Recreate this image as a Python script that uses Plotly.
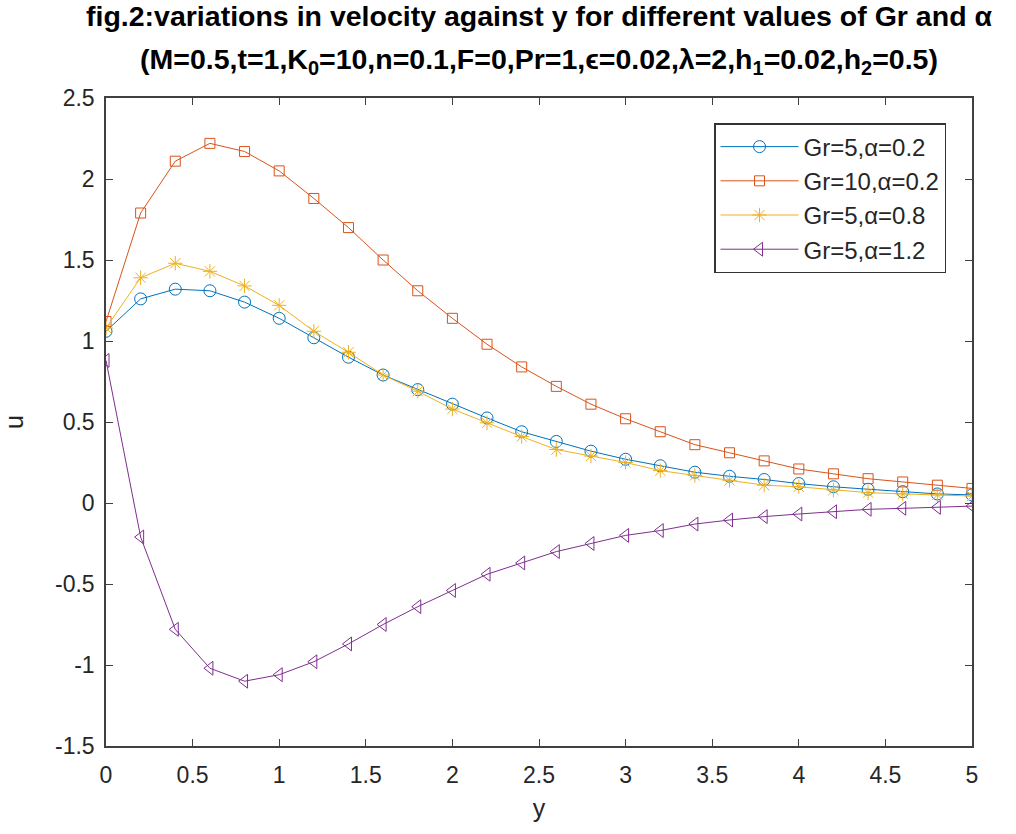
import plotly.graph_objects as go

y_vals = [0.0, 0.2, 0.4, 0.6, 0.8, 1.0, 1.2, 1.4, 1.6, 1.8, 2.0, 2.2, 2.4, 2.6,
          2.8, 3.0, 3.2, 3.4, 3.6, 3.8, 4.0, 4.2, 4.4, 4.6, 4.8, 5.0]

u_gr5_a02 = [1.06, 1.26, 1.32, 1.31, 1.24, 1.14, 1.02, 0.90, 0.79, 0.70, 0.61, 0.525, 0.44,
             0.38, 0.32, 0.27, 0.23, 0.19, 0.165, 0.145, 0.12, 0.10, 0.085, 0.07, 0.056, 0.05]
u_gr10_a02 = [1.12, 1.79, 2.11, 2.22, 2.17, 2.05, 1.88, 1.70, 1.50, 1.31, 1.14, 0.98, 0.84,
              0.72, 0.61, 0.52, 0.44, 0.36, 0.31, 0.26, 0.21, 0.18, 0.15, 0.13, 0.11, 0.09]
u_gr5_a08 = [1.08, 1.39, 1.48, 1.43, 1.34, 1.22, 1.06, 0.93, 0.79, 0.69, 0.58, 0.495, 0.41,
             0.33, 0.29, 0.25, 0.20, 0.17, 0.14, 0.11, 0.10, 0.08, 0.064, 0.056, 0.05, 0.043]
u_gr5_a12 = [0.88, -0.21, -0.78, -1.02, -1.10, -1.06, -0.98, -0.87, -0.75, -0.64, -0.54, -0.44,
             -0.37, -0.30, -0.25, -0.20, -0.17, -0.13, -0.105, -0.084, -0.068, -0.054, -0.039,
             -0.033, -0.027, -0.019]

series_names = ["Gr=5,α=0.2", "Gr=10,α=0.2", "Gr=5,α=0.8", "Gr=5,α=1.2"]
series_values = [u_gr5_a02, u_gr10_a02, u_gr5_a08, u_gr5_a12]
series_colors = ["#0072BD", "#D95319", "#EDB120", "#7E2F8E"]
series_symbols = ["circle-open", "square-open", "asterisk-open", "triangle-left-open"]
series_sizes = [12, 10, 12, 12]

x_tick_vals = [0, 0.5, 1, 1.5, 2, 2.5, 3, 3.5, 4, 4.5, 5]
x_tick_text = ["0", "0.5", "1", "1.5", "2", "2.5", "3", "3.5", "4", "4.5", "5"]
y_tick_vals = [-1.5, -1, -0.5, 0, 0.5, 1, 1.5, 2, 2.5]
y_tick_text = ["-1.5", "-1", "-0.5", "0", "0.5", "1", "1.5", "2", "2.5"]

title_line1 = "fig.2:variations in velocity against y for different values of Gr and α"
title_line2 = ("(M=0.5,t=1,K<sub>0</sub>=10,n=0.1,F=0,Pr=1,ϵ=0.02,λ=2,"
               "h<sub>1</sub>=0.02,h<sub>2</sub>=0.5)")

FONT = "Liberation Sans, Arial, sans-serif"
AXC = "#404040"

fig = go.Figure()
for name, vals, col, sym, sz in zip(series_names, series_values, series_colors,
                                     series_symbols, series_sizes):
    fig.add_trace(go.Scatter(
        x=y_vals, y=vals, name=name, mode="lines+markers",
        line=dict(color=col, width=1),
        marker=dict(symbol=sym, size=sz, color=col, line=dict(color=col, width=1)),
    ))

axis_common = dict(
    showline=True, linecolor=AXC, linewidth=1.5, mirror="ticks",
    ticks="inside", ticklen=7, tickcolor=AXC, tickwidth=1,
    showgrid=False, zeroline=False,
    tickfont=dict(family=FONT, size=23, color="#262626"),
)

fig.update_layout(
    width=1016, height=834,
    margin=dict(l=102, r=44, t=98, b=88),
    paper_bgcolor="white", plot_bgcolor="white",
    font=dict(family=FONT, color="#262626"),
    showlegend=True,
    legend=dict(
        x=0.970, y=0.9614, xanchor="right", yanchor="top",
        bgcolor="white", bordercolor="#333333", borderwidth=1.5,
        font=dict(family=FONT, size=24, color="#262626"),
        itemwidth=78,
    ),
    annotations=[
        dict(text="<b>" + title_line1 + "</b>", xref="paper", yref="paper",
             x=0.5, y=1 + (98 - 16) / 648, xanchor="center", yanchor="middle",
             showarrow=False, font=dict(family=FONT, size=28.5, color="black")),
        dict(text="<b>" + title_line2 + "</b>", xref="paper", yref="paper",
             x=0.5, y=1 + (98 - 61) / 648, xanchor="center", yanchor="middle",
             showarrow=False, font=dict(family=FONT, size=28.5, color="black")),
    ],
)

fig.update_xaxes(range=[0, 5], tickvals=x_tick_vals, ticktext=x_tick_text,
                 ticklabelstandoff=8,
                 title=dict(text="y", font=dict(family=FONT, size=25, color="#262626"),
                            standoff=12),
                 **axis_common)
fig.update_yaxes(range=[-1.5, 2.5], tickvals=y_tick_vals, ticktext=y_tick_text,
                 ticklabelstandoff=5,
                 title=dict(text="u", font=dict(family=FONT, size=25, color="#262626"),
                            standoff=26),
                 **axis_common)

fig.write_html("out.html")
